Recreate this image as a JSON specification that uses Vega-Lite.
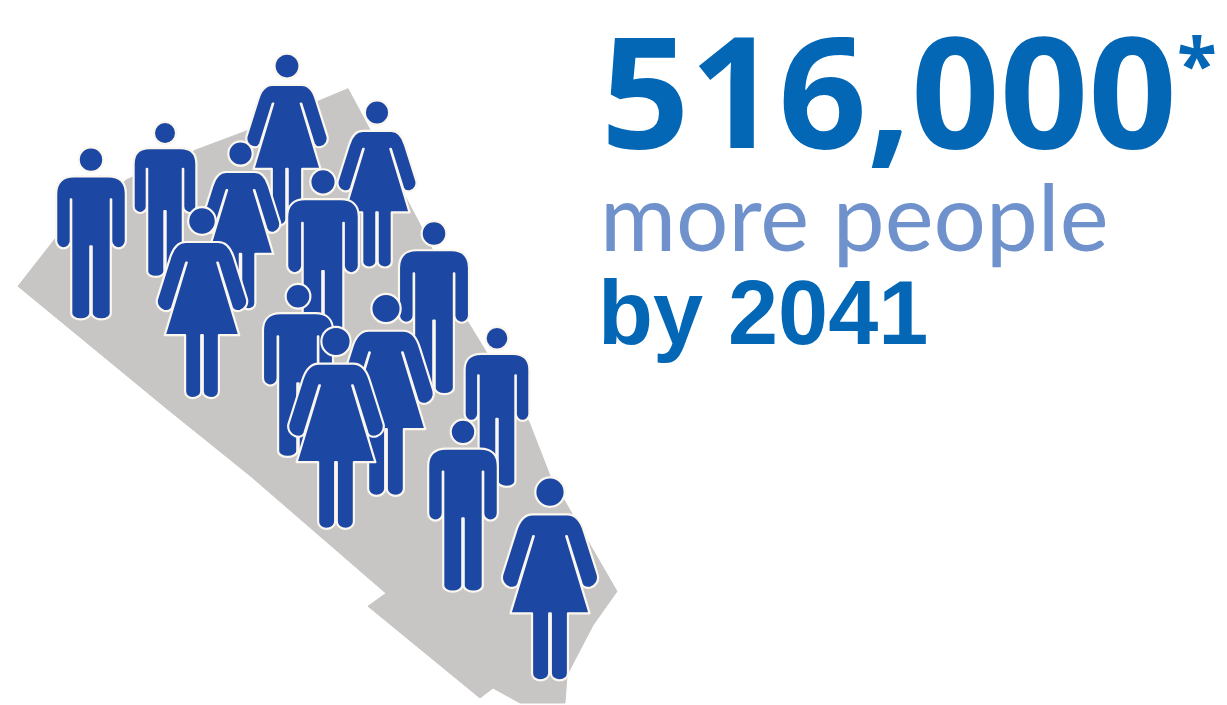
{"$schema":"https://vega.github.io/schema/vega-lite/v6.json","width":1227,"height":705,"autosize":{"type":"fit","contains":"padding"},"padding":0,"background":"#ffffff","view":{"stroke":null},
"layer":[
{"data":{"values":[{"i":1,"x":18,"y":287},{"i":2,"x":57,"y":237},{"i":3,"x":127,"y":180},{"i":4,"x":197,"y":150},{"i":5,"x":250,"y":130},{"i":6,"x":348,"y":89},{"i":7,"x":362,"y":115},{"i":8,"x":420,"y":225},{"i":9,"x":468,"y":323},{"i":10,"x":529,"y":423},{"i":11,"x":550,"y":477},{"i":12,"x":617,"y":593},{"i":13,"x":593,"y":627},{"i":14,"x":567,"y":677},{"i":15,"x":565,"y":705},{"i":16,"x":520,"y":705},{"i":17,"x":493,"y":690},{"i":18,"x":480,"y":700},{"i":19,"x":368,"y":608},{"i":20,"x":386,"y":595},{"i":21,"x":250,"y":477},{"i":22,"x":167,"y":410}]},
"mark":{"type":"line","interpolate":"linear-closed","fill":"#c8c6c5","stroke":"#c8c6c5","strokeWidth":1},
"encoding":{"x":{"field":"x","type":"quantitative","scale":{"domain":[0,1227]},"axis":null},"y":{"field":"y","type":"quantitative","scale":{"domain":[705,0]},"axis":null},"order":{"field":"i","type":"quantitative"}}},
{"data":{"values":[
{"kind":"man","x":91,"y":234,"h":172},
{"kind":"man","x":165,"y":200,"h":155},
{"kind":"woman","x":287,"y":140,"h":172},
{"kind":"woman","x":377,"y":184.5,"h":167},
{"kind":"woman","x":240.5,"y":226,"h":168},
{"kind":"man","x":323,"y":258.5,"h":177},
{"kind":"woman","x":202,"y":303.5,"h":191},
{"kind":"man","x":434,"y":308.5,"h":173},
{"kind":"man","x":298,"y":371.5,"h":173},
{"kind":"woman","x":386,"y":396,"h":202},
{"kind":"woman","x":336,"y":429,"h":202},
{"kind":"man","x":497,"y":408,"h":160},
{"kind":"man","x":463,"y":507,"h":172},
{"kind":"woman","x":550,"y":580.5,"h":203}
]},
"mark":{"type":"point","filled":true,"fill":"#1c47a3","stroke":"#fbf7ef","strokeWidth":2.2,"opacity":1,"strokeJoin":"round"},
"encoding":{"x":{"field":"x","type":"quantitative","scale":{"domain":[0,1227]},"axis":null},"y":{"field":"y","type":"quantitative","scale":{"domain":[705,0]},"axis":null},
"size":{"field":"h","type":"quantitative","legend":null,"scale":{"type":"pow","exponent":2,"domain":[0,1000],"range":[0,1000000]}},
"shape":{"field":"kind","type":"nominal","legend":null,"scale":{"domain":["man","woman"],"range":[
"M0,-1C0.079,-1 0.143,-0.936 0.143,-0.857C0.143,-0.778 0.079,-0.714 0,-0.714C-0.079,-0.714 -0.143,-0.778 -0.143,-0.857C-0.143,-0.936 -0.079,-1 0,-1ZM-0.2,-0.663L0.2,-0.663C0.33,-0.663 0.405,-0.59 0.405,-0.46L0.405,0.09C0.405,0.14 0.36,0.175 0.32,0.175C0.28,0.175 0.235,0.14 0.235,0.09L0.235,-0.395L0.23,-0.395L0.23,0.93C0.23,0.97 0.18,1 0.12,1C0.06,1 0.008,0.97 0.008,0.93L0.008,0.15L-0.008,0.15L-0.008,0.93C-0.008,0.97 -0.06,1 -0.12,1C-0.18,1 -0.23,0.97 -0.23,0.93L-0.23,-0.395L-0.235,-0.395L-0.235,0.09C-0.235,0.14 -0.28,0.175 -0.32,0.175C-0.36,0.175 -0.405,0.14 -0.405,0.09L-0.405,-0.46C-0.405,-0.59 -0.33,-0.663 -0.2,-0.663Z",
"M0,-1C0.08,-1 0.145,-0.935 0.145,-0.855C0.145,-0.775 0.08,-0.71 0,-0.71C-0.08,-0.71 -0.145,-0.775 -0.145,-0.855C-0.145,-0.935 -0.08,-1 0,-1ZM-0.17,-0.635L0.17,-0.635C0.26,-0.635 0.31,-0.55 0.335,-0.468L0.47,-0.04C0.485,0.02 0.45,0.07 0.4,0.085C0.36,0.095 0.325,0.08 0.312,0.05L0.166,-0.42L0.16,-0.42L0.39,0.34L0.177,0.34L0.177,0.93C0.177,0.97 0.14,1 0.095,1C0.05,1 0.008,0.97 0.008,0.93L0.008,0.34L-0.008,0.34L-0.008,0.93C-0.008,0.97 -0.05,1 -0.095,1C-0.14,1 -0.177,0.97 -0.177,0.93L-0.177,0.34L-0.39,0.34L-0.16,-0.42L-0.166,-0.42L-0.312,0.05C-0.325,0.08 -0.36,0.095 -0.4,0.085C-0.45,0.07 -0.485,0.02 -0.47,-0.04L-0.335,-0.468C-0.31,-0.55 -0.26,-0.635 -0.17,-0.635Z"
]}}}},
{"data":{"values":[{"t":"516,000","x":601,"y":148}]},"mark":{"type":"text","font":"Open Sans","fontWeight":700,"fontSize":155,"fill":"#0367b6","align":"left","baseline":"alphabetic"},"encoding":{"x":{"field":"x","type":"quantitative","scale":{"domain":[0,1227]},"axis":null},"y":{"field":"y","type":"quantitative","scale":{"domain":[705,0]},"axis":null},"text":{"field":"t"}}},
{"data":{"values":[{"t":"*","x":1177,"y":91}]},"mark":{"type":"text","font":"Open Sans","fontWeight":700,"fontSize":73,"fill":"#0367b6","align":"left","baseline":"alphabetic"},"encoding":{"x":{"field":"x","type":"quantitative","scale":{"domain":[0,1227]},"axis":null},"y":{"field":"y","type":"quantitative","scale":{"domain":[705,0]},"axis":null},"text":{"field":"t"}}},
{"data":{"values":[{"t":"more people","x":600,"y":252}]},"mark":{"type":"text","font":"Lato","fontWeight":400,"fontSize":92.5,"fill":"#6f91cc","align":"left","baseline":"alphabetic"},"encoding":{"x":{"field":"x","type":"quantitative","scale":{"domain":[0,1227]},"axis":null},"y":{"field":"y","type":"quantitative","scale":{"domain":[705,0]},"axis":null},"text":{"field":"t"}}},
{"data":{"values":[{"t":"by 2041","x":598,"y":345}]},"mark":{"type":"text","font":"Liberation Sans","fontWeight":700,"fontSize":90,"fill":"#0367b6","align":"left","baseline":"alphabetic"},"encoding":{"x":{"field":"x","type":"quantitative","scale":{"domain":[0,1227]},"axis":null},"y":{"field":"y","type":"quantitative","scale":{"domain":[705,0]},"axis":null},"text":{"field":"t"}}}
]}
